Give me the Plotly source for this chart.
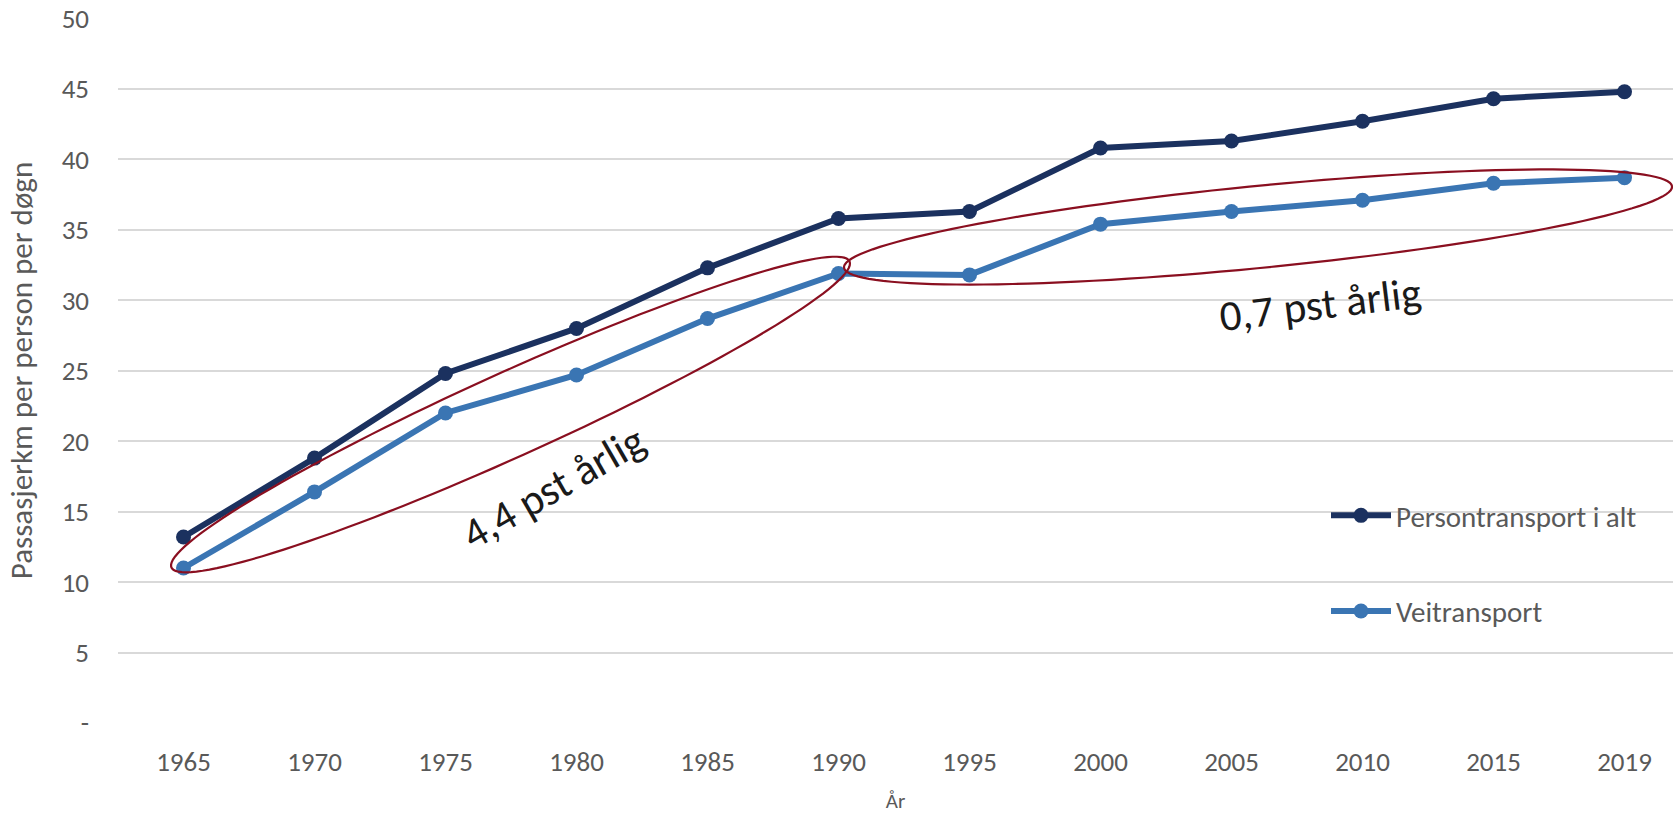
import numpy as np
import plotly.graph_objects as go

# ---- data ----
years = ["1965", "1970", "1975", "1980", "1985", "1990", "1995", "2000", "2005", "2010", "2015", "2019"]
persontransport = [13.2, 18.8, 24.8, 28.0, 32.3, 35.8, 36.3, 40.8, 41.3, 42.7, 44.3, 44.8]
veitransport = [11.0, 16.4, 22.0, 24.7, 28.7, 31.9, 31.8, 35.4, 36.3, 37.1, 38.3, 38.7]
series_names = ["Persontransport i alt", "Veitransport"]
y_tickvals = [0, 5, 10, 15, 20, 25, 30, 35, 40, 45, 50]
y_ticktext = ["-", "5", "10", "15", "20", "25", "30", "35", "40", "45", "50"]
y_title = "Passasjerkm per person per døgn"
x_title = "År"
note_texts = ["4,4 pst årlig", "0,7 pst årlig"]

# ---- styling / layout ----
W, H = 1673, 815
ML, MR, MT = 118, 0, 18
PLOT_BOTTOM = 723
MB = H - PLOT_BOTTOM
PW, PH = W - ML - MR, H - MT - MB
CAT_PX = 131.0
DARK = "#1b315f"
LIGHT = "#3a75b3"
RED = "#8a0f20"
GRID = "#d9d9d9"
GREY = "#595959"
FONT = "Calibri, Carlito, Lato, sans-serif"

fig = go.Figure()
fig.add_trace(go.Scatter(x=years, y=persontransport, name=series_names[0], mode="lines+markers",
                         line=dict(color=DARK, width=6), marker=dict(size=15, color=DARK),
                         legendgroup="a"))
fig.add_trace(go.Scatter(x=years, y=veitransport, name=series_names[1], mode="lines+markers",
                         line=dict(color=LIGHT, width=6), marker=dict(size=15, color=LIGHT),
                         legendgroup="b"))


def px_to_paper(px, py):
    return (px - ML) / PW, (PLOT_BOTTOM - py) / PH


def ellipse_path(cx, cy, a, b, ang_deg, n=140):
    t = np.linspace(0, 2 * np.pi, n)
    th = np.deg2rad(ang_deg)
    xs = cx + a * np.cos(t) * np.cos(th) - b * np.sin(t) * np.sin(th)
    ys = cy - (a * np.cos(t) * np.sin(th) + b * np.sin(t) * np.cos(th))
    pts = [px_to_paper(x, y) for x, y in zip(xs, ys)]
    return "M " + " L ".join(f"{x:.5f},{y:.5f}" for x, y in pts) + " Z"


# ellipses (center px, semi-axes px, angle deg)
ellipses = [(510.5, 414.5, 372, 42, 24.3), (1258, 227, 416, 41, 5.6)]
for cx, cy, a, b, ang in ellipses:
    fig.add_shape(type="path", xref="paper", yref="paper", path=ellipse_path(cx, cy, a, b, ang),
                  line=dict(color=RED, width=2.2), fillcolor="rgba(0,0,0,0)", layer="above")

note_pos = [(553, 487, -30), (1320, 304, -7)]
for txt, (px, py, ang) in zip(note_texts, note_pos):
    xp, yp = px_to_paper(px, py)
    fig.add_annotation(text=txt, x=xp, y=yp, xref="paper", yref="paper", showarrow=False,
                       textangle=ang, xanchor="center", yanchor="middle",
                       font=dict(family=FONT, size=43, color="#1a1a1a"))

lx, ly = px_to_paper(1326, 490)
fig.update_layout(
    width=W, height=H,
    margin=dict(l=ML, r=MR, t=MT, b=MB, pad=0, autoexpand=False),
    plot_bgcolor="white", paper_bgcolor="white",
    font=dict(family=FONT, color=GREY, size=27),
    showlegend=True,
    legend=dict(x=lx, y=ly, xanchor="left", yanchor="top",
                bgcolor="rgba(0,0,0,0)", font=dict(size=29, color=GREY),
                tracegroupgap=55, itemwidth=60),
)
fig.update_xaxes(type="category", range=[-0.5, -0.5 + PW / CAT_PX], showgrid=False, zeroline=False,
                 showline=False, ticks="", ticklabelstandoff=20,
                 tickfont=dict(size=27, color=GREY), automargin=False,
                 title=dict(text=x_title, font=dict(size=21, color=GREY), standoff=16))
fig.update_yaxes(range=[0, 50.03], tickvals=y_tickvals, ticktext=y_ticktext, showgrid=True,
                 gridcolor=GRID, gridwidth=2, zeroline=False, showline=False, ticks="",
                 ticklabelstandoff=28, tickfont=dict(size=27, color=GREY), automargin=False,
                 ticklabeloverflow="allow",
                 title=dict(text=y_title, font=dict(size=31, color=GREY), standoff=19))

# remove the browser's default page margin so the figure fills the window exactly
fig.write_html("out.html", config={"displayModeBar": False},
               post_script="document.body.style.margin='0';")
